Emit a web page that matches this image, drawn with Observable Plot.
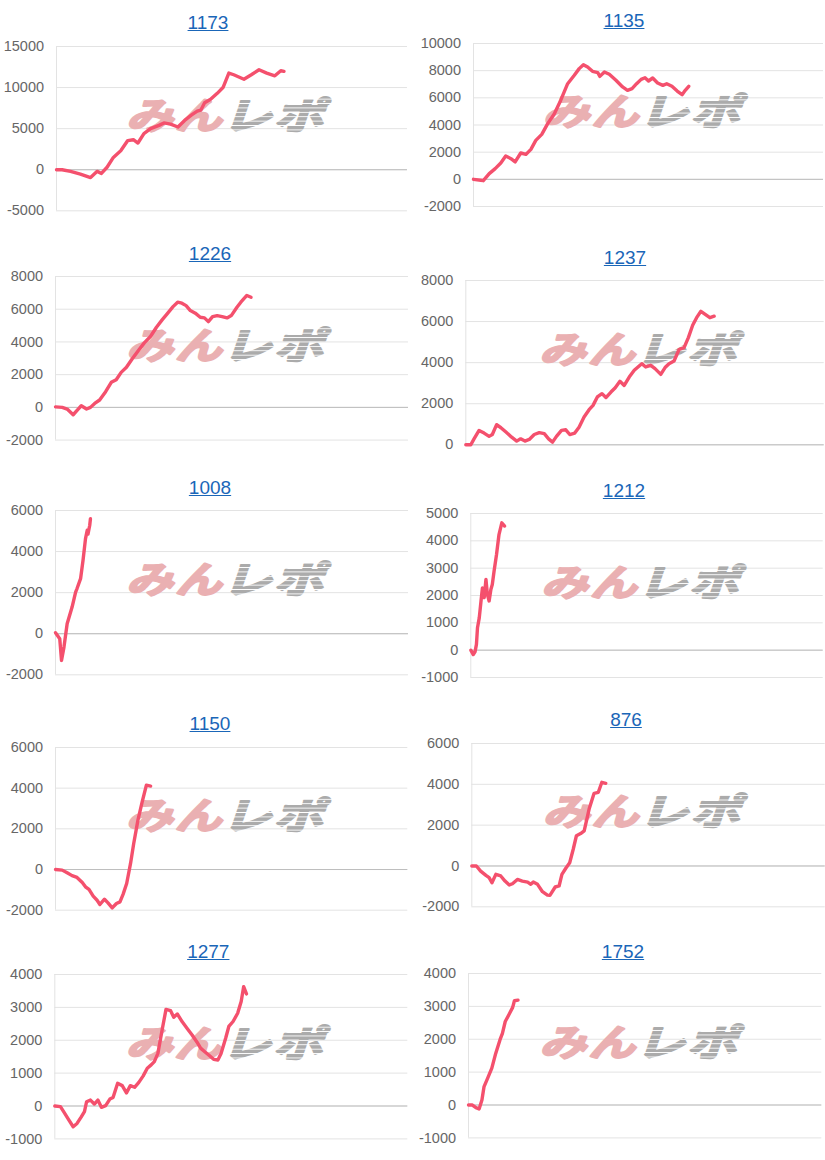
<!DOCTYPE html>
<html><head><meta charset="utf-8">
<script src="https://cdn.jsdelivr.net/npm/d3@7"></script>
<script src="https://cdn.jsdelivr.net/npm/@observablehq/plot@0.6"></script>
<style>
body{margin:0;background:#fff;}
#root{position:relative;width:825px;height:1160px;overflow:hidden;background:#fff;font-family:"Liberation Sans",Arial,sans-serif;}
.ttl{position:absolute;width:200px;text-align:center;font-size:19px;line-height:19px;white-space:nowrap;}
.ttl a{color:#1a66b8;text-decoration:underline;}
</style></head><body><div id="root"></div>
<script>
// ---- titles ----
const titles = ["1173","1135","1226","1237","1008","1212","1150","876","1277","1752"];

// ---- y tick labels per chart ----
const t1173 = [-5000,0,5000,10000,15000];
const t1135 = [-2000,0,2000,4000,6000,8000,10000];
const t1226 = [-2000,0,2000,4000,6000,8000];
const t1237 = [0,2000,4000,6000,8000];
const t1008 = [-2000,0,2000,4000,6000];
const t1212 = [-1000,0,1000,2000,3000,4000,5000];
const t1150 = [-2000,0,2000,4000,6000];
const t876  = [-2000,0,2000,4000,6000];
const t1277 = [-1000,0,1000,2000,3000,4000];
const t1752 = [-1000,0,1000,2000,3000,4000];

// ---- series: [progress (% of x range), value] ----
const s1173 = [[0,0],[1.6,0],[4.0,-200],[6.8,-530],[9.7,-950],[11.6,-200],[12.8,-450],[14.4,300],[16.2,1500],[18.3,2300],[20.3,3550],[21.9,3650],[23.2,3250],[24.9,4400],[26.8,5000],[29.2,5400],[30.6,5700],[32.5,5550],[34.6,5200],[36.5,6000],[38.4,6640],[40.1,7130],[41.1,7250],[42.2,8150],[43.9,8570],[45.8,9300],[47.5,10040],[49.1,11760],[50.5,11560],[53.4,11020],[55.5,11560],[57.7,12170],[59.9,11760],[62.2,11430],[63.9,12050],[64.8,11970]];
const s1135 = [[0,0],[2.1,-70],[2.8,-100],[4.5,420],[6.2,790],[7.8,1200],[9.2,1720],[10.7,1520],[11.9,1280],[13.5,1940],[15.0,1840],[16.4,2210],[17.8,2870],[19.5,3310],[21.2,4100],[23.1,4830],[24.9,5810],[26.9,7040],[28.8,7660],[30.2,8150],[31.4,8440],[32.6,8270],[34.0,7950],[35.5,7850],[36.1,7580],[37.4,7900],[38.8,7730],[40.7,7290],[42.6,6800],[44.0,6550],[45.3,6680],[46.6,7040],[47.9,7360],[49.0,7480],[50.0,7240],[51.2,7460],[52.6,7090],[54.1,6920],[55.2,7040],[56.7,6850],[58.2,6500],[59.6,6230],[60.5,6550],[61.5,6850]];
const s1226 = [[0,30],[1.9,0],[3.3,-100],[5.0,-450],[6.3,-140],[7.3,100],[8.8,-100],[9.9,0],[11.1,240],[12.5,450],[14.2,960],[15.8,1530],[17.2,1690],[18.6,2140],[20.1,2450],[21.7,2960],[23.6,3510],[25.2,3960],[26.9,4330],[28.6,4900],[30.2,5350],[31.8,5760],[33.3,6160],[34.6,6430],[35.8,6370],[37.0,6220],[38.2,5920],[39.6,5760],[41.0,5510],[42.2,5470],[43.3,5240],[44.5,5550],[45.8,5610],[47.2,5550],[48.6,5470],[49.8,5610],[51.4,6120],[52.5,6430],[54.2,6840],[55.4,6730]];
const s1237 = [[0,0],[1.4,0],[2.3,290],[3.7,700],[5.1,570],[6.5,410],[7.4,500],[8.6,980],[9.8,830],[11.2,620],[12.8,370],[14.2,180],[15.3,290],[16.5,180],[17.7,260],[19.1,500],[20.5,590],[21.9,540],[23.1,290],[24.2,130],[25.3,410],[26.7,700],[27.9,730],[29.0,500],[30.4,570],[31.6,860],[33.0,1350],[34.4,1710],[35.5,1920],[36.7,2330],[38.0,2490],[39.1,2300],[40.5,2570],[41.7,2780],[43.0,3090],[44.2,2890],[45.6,3300],[47.0,3630],[49.1,3950],[50.2,3790],[51.6,3870],[52.8,3710],[54.4,3430],[55.6,3760],[56.7,3950],[58.1,4080],[59.5,4640],[60.9,4730],[62.1,5220],[63.3,5820],[64.4,6190],[65.6,6500],[66.8,6350],[68.1,6190],[69.3,6260]];
const s1008 = [[0,50],[1.2,-240],[1.7,-1300],[2.4,-650],[3.3,490],[4.7,1300],[5.7,2030],[6.1,2200],[7.1,2680],[7.8,3580],[8.5,4630],[9.0,5040],[9.2,4850],[9.7,5280],[9.9,5600]];
const s1212 = [[0,0],[0.7,-160],[1.2,-60],[1.6,210],[1.9,820],[2.4,1180],[2.9,1800],[3.3,2280],[3.8,1920],[4.3,2590],[4.7,2040],[5.2,1800],[5.7,2220],[6.1,2400],[6.6,2890],[7.3,3500],[8.0,4230],[8.8,4660],[9.6,4540]];
const s1150 = [[0,0],[1.9,-30],[3.3,-160],[4.7,-300],[6.1,-390],[7.6,-640],[8.5,-850],[9.5,-980],[10.7,-1310],[11.8,-1510],[12.6,-1720],[13.9,-1460],[14.9,-1640],[16.1,-1890],[17.3,-1670],[18.3,-1590],[19.2,-1210],[20.2,-690],[21.3,300],[22.2,1280],[23.4,2430],[24.6,3330],[25.8,4150],[27.0,4100]];
const s876  = [[0,0],[1.3,0],[2.5,-250],[4.0,-460],[4.9,-570],[5.7,-820],[6.8,-410],[8.2,-490],[9.4,-740],[10.6,-930],[11.5,-870],[12.9,-660],[14.3,-740],[15.8,-790],[16.7,-900],[17.4,-790],[18.6,-900],[20.0,-1260],[21.4,-1430],[22.1,-1440],[23.6,-1030],[24.7,-980],[25.5,-410],[26.6,-110],[27.7,160],[28.7,820],[29.6,1480],[30.8,1590],[31.8,1720],[33.2,2790],[34.6,3560],[35.8,3610],[36.8,4100],[37.9,4050]];
const s1277 = [[0,0],[1.6,-20],[2.5,-170],[4.0,-430],[5.2,-630],[6.3,-530],[7.5,-330],[8.4,-170],[9.0,130],[10.1,180],[11.2,60],[12.2,180],[13.2,-40],[14.4,10],[15.6,210],[16.5,260],[17.8,690],[19.1,620],[20.3,400],[21.4,620],[22.6,570],[23.8,720],[25.0,910],[26.2,1150],[27.3,1250],[28.2,1350],[29.2,1600],[30.4,2310],[31.5,2940],[32.8,2900],[33.7,2700],[34.7,2800],[36.1,2560],[37.5,2360],[38.9,2160],[40.3,1940],[41.3,1760],[42.4,1660],[43.6,1550],[45.0,1420],[46.2,1400],[47.1,1600],[48.4,2060],[49.3,2420],[50.5,2570],[51.8,2820],[52.8,3180],[53.5,3630],[54.3,3410]];
const s1752 = [[0,0],[1.1,0],[2.1,-80],[3.0,-120],[3.8,150],[4.4,560],[5.4,810],[6.6,1120],[7.7,1570],[8.9,1980],[9.6,2180],[10.4,2540],[11.5,2760],[12.5,2970],[13.0,3170],[14.0,3190]];

const series = [s1173,s1135,s1226,s1237,s1008,s1212,s1150,s876,s1277,s1752];
const tickSets = [t1173,t1135,t1226,t1237,t1008,t1212,t1150,t876,t1277,t1752];

// ---- layout (pixel placement of each panel) ----
const layouts = [
  {col:0, axisX:56,    rightX:407,   top:45.7,  bottom:210,    tX:208,   tBase:29.3},
  {col:1, axisX:473,   rightX:823,   top:43.3,  bottom:206.3,  tX:624,   tBase:26.7},
  {col:0, axisX:55,    rightX:408,   top:275.7, bottom:439.3,  tX:210,   tBase:259.5},
  {col:1, axisX:465.3, rightX:823.7, top:280,   bottom:444.3,  tX:625,   tBase:263.5},
  {col:0, axisX:55,    rightX:408,   top:510,   bottom:674.3,  tX:210,   tBase:493.5},
  {col:1, axisX:470.3, rightX:822.7, top:512.7, bottom:676.7,  tX:624,   tBase:496.7},
  {col:0, axisX:55,    rightX:407.3, top:747.3, bottom:910,    tX:210,   tBase:729.8},
  {col:1, axisX:471.3, rightX:824.7, top:742.7, bottom:906,    tX:626,   tBase:725.8},
  {col:0, axisX:54.3,  rightX:407.3, top:974.3, bottom:1138.7, tX:208.3, tBase:957.8},
  {col:1, axisX:468,   rightX:821.3, top:973.3, bottom:1137.7, tX:623,   tBase:957.5}
];

const root = document.getElementById("root");
const LINE = "#f4506d";
const CJK = "'Noto Sans CJK JP','Noto Sans',sans-serif";
const PINK = "#eab0b2", GREY = "#ababab";

function squash(sel, sx, sy) {
  sel.each(function() {
    const tr = this.getAttribute("transform");
    if (tr) {
      this.setAttribute("transform", tr + ` scale(${sx},${sy})`);
    } else {
      const x = +this.getAttribute("x") || 0, y = +this.getAttribute("y") || 0;
      this.setAttribute("transform", `translate(${x},${y}) scale(${sx},${sy}) translate(${-x},${-y})`);
    }
  });
}

series.forEach((data, i) => {
  const L = layouts[i];
  const colX = L.col ? 412 : 0;
  const W = L.col ? 413 : 412;
  const ticks = tickSets[i];
  const pad = 14;
  const H = L.bottom - L.top + 2 * pad;
  const wmStyle = {frameAnchor: "middle", dy: -11.5, fontSize: 46, fontWeight: "bold", fontStyle: "italic", fontFamily: CJK};
  const chart = Plot.plot({
    width: W, height: H,
    marginTop: pad, marginBottom: pad,
    marginLeft: L.axisX - colX, marginRight: colX + W - L.rightX,
    x: {domain: [0, 100], axis: null},
    y: {domain: [d3.min(ticks), d3.max(ticks)], axis: null},
    style: {fontFamily: "'Liberation Sans', Arial, sans-serif", background: "transparent", color: "#666", overflow: "visible"},
    marks: [
      Plot.gridY(ticks, {stroke: "#e3e3e3", strokeOpacity: 1, strokeWidth: 1}),
      Plot.ruleY([0], {stroke: "#bdbdbd", strokeWidth: 1}),
      Plot.ruleX([0], {stroke: "#e3e3e3", strokeWidth: 1}),
      Plot.axisY(ticks, {tickSize: 0, tickPadding: 12.5, fontSize: 14.5, tickFormat: d => String(d), anchor: "left"}),
      Plot.text(["みん"], {...wmStyle, textAnchor: "end", dx: -8, fill: PINK}),
      Plot.text(["レポ"], {...wmStyle, textAnchor: "start", dx: -10, fill: GREY}),
      Plot.line(data, {x: d => d[0], y: d => d[1], stroke: LINE, strokeWidth: 3.4, strokeLinejoin: "round", strokeLinecap: "round"})
    ]
  });
  const svg = d3.select(chart);
  const pid = "stripe" + i;
  const pat = svg.insert("defs", ":first-child").append("pattern")
    .attr("id", pid).attr("patternUnits", "userSpaceOnUse").attr("width", 12).attr("height", 5.5);
  pat.append("rect").attr("width", 12).attr("height", 5.5).attr("fill", "#ffffff");
  pat.append("rect").attr("width", 12).attr("height", 4.4).attr("fill", GREY);
  const wm = svg.selectAll("text").filter(function(){ const t = this.textContent; return t === "みん" || t === "レポ"; });
  wm.style("letter-spacing", "2px").attr("stroke-width", 2.6).attr("stroke-linejoin", "round");
  const mi = wm.filter(function(){ return this.textContent === "みん"; });
  const re = wm.filter(function(){ return this.textContent === "レポ"; });
  mi.attr("stroke", PINK);
  re.attr("fill", `url(#${pid})`).attr("stroke", `url(#${pid})`);
  squash(mi, 1.02, 0.8);
  squash(re, 1.08, 0.8);
  chart.style.position = "absolute";
  chart.style.left = colX + "px";
  chart.style.top = (L.top - pad) + "px";
  root.appendChild(chart);

  const t = document.createElement("div");
  t.className = "ttl";
  t.style.left = (L.tX - 100) + "px";
  t.style.top = (L.tBase - 16) + "px";
  const a = document.createElement("a");
  a.href = "#";
  a.textContent = titles[i];
  t.appendChild(a);
  root.appendChild(t);
});
</script></body></html>
